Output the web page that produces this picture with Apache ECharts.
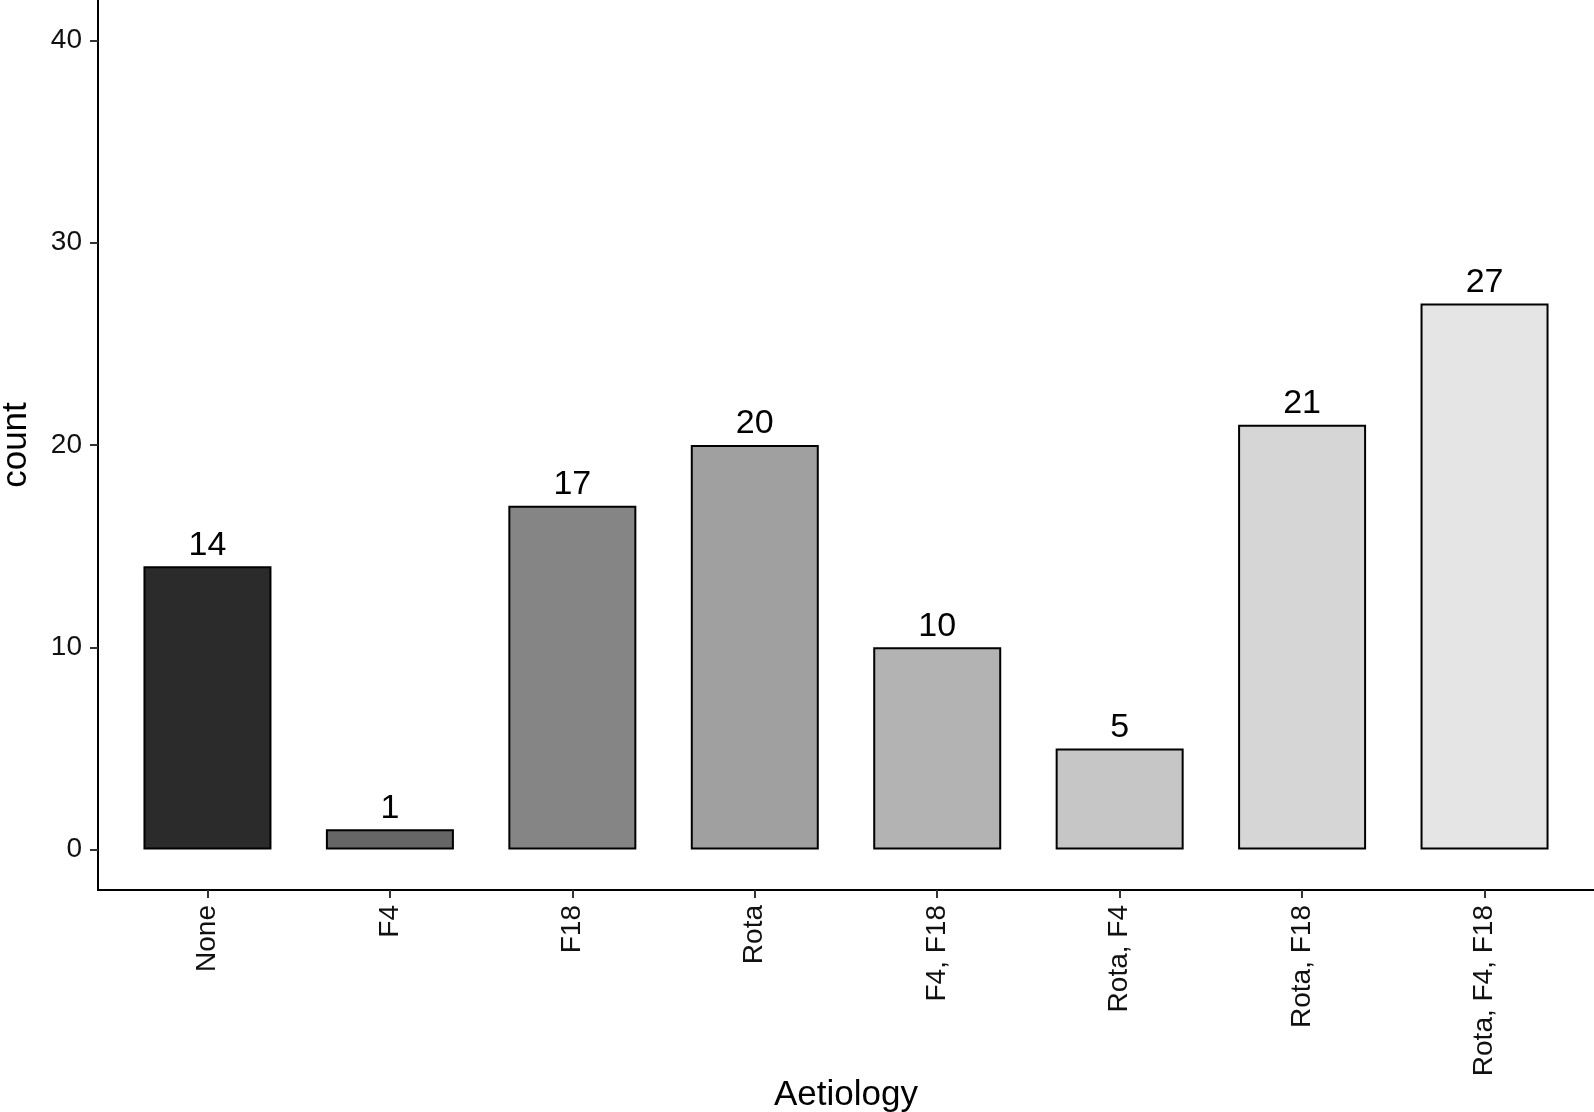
<!DOCTYPE html>
<html>
<head>
<meta charset="utf-8">
<script src="https://cdn.jsdelivr.net/npm/echarts@6/dist/echarts.min.js"></script>
<style>
  html, body { margin: 0; padding: 0; background: #ffffff; }
  #chart { width: 1594px; height: 1112px; }
</style>
</head>
<body>
<div id="chart"></div>
<script>
const categories = ["None", "F4", "F18", "Rota", "F4, F18", "Rota, F4", "Rota, F18", "Rota, F4, F18"];
const counts = [14, 1, 17, 20, 10, 5, 21, 27];
const yTicks = [0, 10, 20, 30, 40];
const fillColors = ["#2b2b2b", "#666666", "#858585", "#a0a0a0", "#b3b3b3", "#c6c6c6", "#d6d6d6", "#e5e5e5"];

const font = "'Liberation Sans', Arial, sans-serif";
const chart = echarts.init(document.getElementById('chart'), null, { renderer: 'canvas' });

const xPositions = categories.map((c, i) => i);

chart.setOption({
  backgroundColor: '#ffffff',
  animation: false,
  grid: { left: 98, right: 0, top: 0, height: 890, containLabel: false, outerBoundsMode: 'none' },
  xAxis: {
    type: 'value',
    min: -0.6,
    max: 7.6,
    name: 'Aetiology',
    nameLocation: 'middle',
    nameGap: 188,
    nameMoveOverlap: false,
    nameTextStyle: { fontFamily: font, fontSize: 35, color: '#000000' },
    splitLine: { show: false },
    axisLine: { show: true, onZero: false, lineStyle: { color: '#000000', width: 2 } },
    axisTick: { show: true, customValues: xPositions, length: 8, lineStyle: { color: '#333333', width: 2 } },
    axisLabel: {
      show: true,
      customValues: xPositions,
      rotate: 90,
      margin: 15,
      fontFamily: font,
      fontSize: 28,
      color: '#111111',
      formatter: function (v) { return categories[Math.round(v)]; }
    }
  },
  yAxis: {
    type: 'value',
    min: -2,
    max: 42,
    name: 'count',
    nameLocation: 'middle',
    nameRotate: 90,
    nameGap: 64,
    nameMoveOverlap: false,
    nameTextStyle: { fontFamily: font, fontSize: 35, color: '#000000' },
    splitLine: { show: false },
    axisLine: { show: true, onZero: false, lineStyle: { color: '#000000', width: 2 } },
    axisTick: { show: true, customValues: yTicks, length: 8, lineStyle: { color: '#333333', width: 2 } },
    axisLabel: {
      show: true,
      customValues: yTicks,
      margin: 16,
      fontFamily: font,
      fontSize: 28,
      color: '#111111'
    }
  },
  series: [{
    type: 'bar',
    barWidth: 128,
    data: counts.map((v, i) => ({
      value: [i, v],
      itemStyle: { color: fillColors[i], borderColor: '#000000', borderWidth: 2 }
    })),
    label: {
      show: true,
      position: 'top',
      distance: 4,
      fontFamily: font,
      fontSize: 34,
      color: '#000000',
      formatter: function (p) { return p.value[1]; }
    }
  }]
});
</script>
</body>
</html>
